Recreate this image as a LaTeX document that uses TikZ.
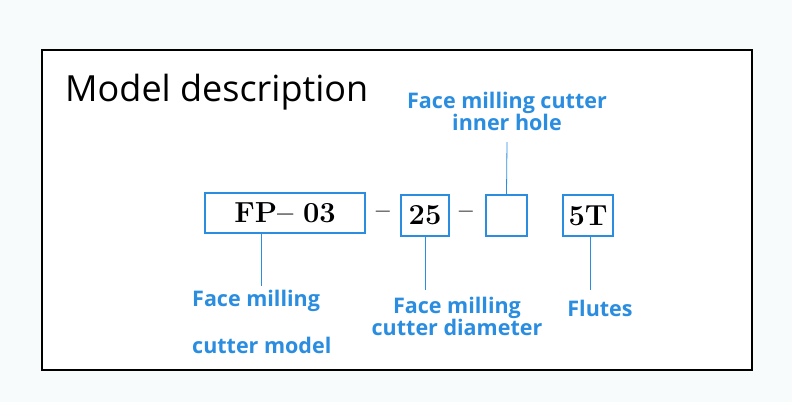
\documentclass[tikz,border=0pt]{standalone}
\usepackage{fontspec}
\newfontfamily\lab{Open Sans}
\definecolor{bl}{HTML}{2A8DE0}
\definecolor{bg}{HTML}{F8FBFB}
\begin{document}
\begin{tikzpicture}[x=1pt,y=-1pt,
  bx/.style={draw=bl,line width=1.8pt,inner sep=0pt,fill=white},
  lk/.style={draw=bl,line width=0.8pt},
  tx/.style={text=bl,font=\lab\bfseries\fontsize{21.5}{24}\selectfont,inner sep=0pt,align=center}]
\fill[bg] (0,0) rectangle (792,402);
\useasboundingbox (0,0) rectangle (792,402);
\draw[line width=1.2pt,fill=white] (42,50) rectangle (752,370);
\node[anchor=west,inner sep=0pt,font=\lab\fontsize{36}{40}\selectfont] (title) at (65,92) {Model description};
\node[bx,minimum width=160pt,minimum height=40pt,font=\bfseries\fontsize{29}{34}\selectfont] (fp) at (285,213) {FP--\,\,03};
\node[bx,minimum width=48pt,minimum height=41pt,font=\bfseries\fontsize{29}{34}\selectfont] (d) at (425,215.5) {25};
\node[bx,minimum width=41pt,minimum height=41pt] (h) at (506.5,215.5) {};
\node[bx,minimum width=50pt,minimum height=41pt,font=\bfseries\fontsize{29}{34}\selectfont] (f) at (588,215.5) {5T};
\node[font=\bfseries\fontsize{25}{28}\selectfont,inner sep=0pt] (m1) at (383,215) {--};
\node[font=\bfseries\fontsize{25}{28}\selectfont,inner sep=0pt] (m2) at (466,215) {--};
\coordinate (c1) at (261,286);
\coordinate (c2) at (425,290);
\coordinate (c3) at (590,290);
\coordinate (c4) at (507,142);
\draw[lk] (fp.south -| c1) -- (c1);
\draw[lk] (d.south) -- (c2);
\draw[lk] (f.south -| c3) -- (c3);
\draw[lk] (h.north) -- (c4);
\node[tx,anchor=west] (l1) at (192,301) {Face milling};
\node[tx,anchor=west] (l2) at (192,345) {cutter model};
\node[tx] (l3) at (457,316) {Face milling\\[-2pt]cutter diameter};
\node[tx] (l4) at (600,308) {Flutes};
\node[tx] (l5) at (507,111) {Face milling cutter\\[-2pt]inner hole};
\end{tikzpicture}
\end{document}
